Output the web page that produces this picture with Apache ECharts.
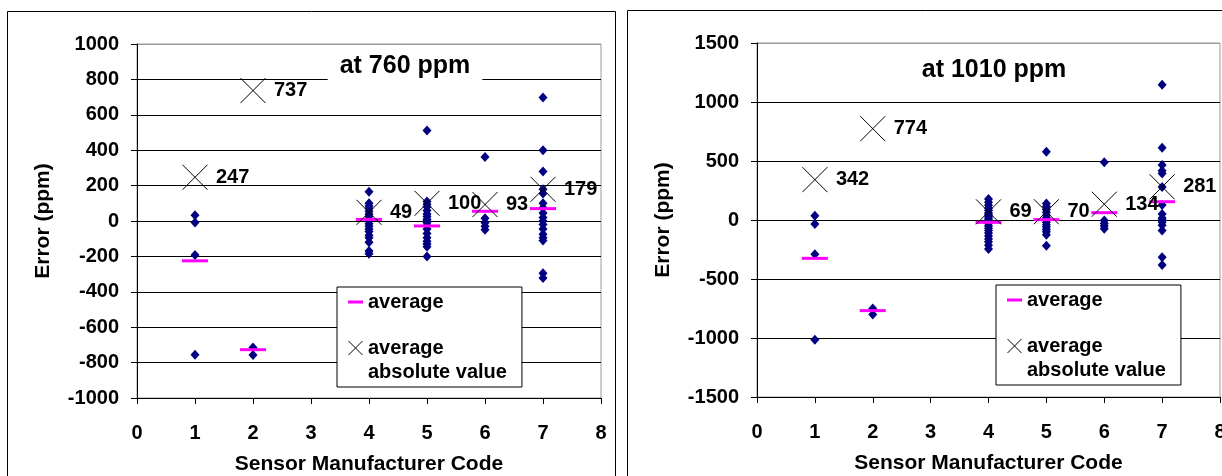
<!DOCTYPE html>
<html>
<head>
<meta charset="utf-8">
<script src="https://cdn.jsdelivr.net/npm/echarts@6/dist/echarts.min.js"></script>
<style>
html,body{margin:0;padding:0;background:#fff;}
#chart{width:1222px;height:476px;}
</style>
</head>
<body>
<div id="chart"></div>
<script>
// ---- data ----
const sensorCodes = [1, 2, 4, 5, 6, 7];

// individual sensor errors (ppm) at 760 ppm, per manufacturer code
const errors760 = [
  [33, -8, -192, -755],
  [-715, -757],
  [165, 100, 85, 70, 55, 40, 25, 10, 0, -15, -30, -45, -60, -80, -95, -120, -170, -185],
  [512, 110, 95, 80, 60, 40, 25, 10, 0, -10, -25, -45, -70, -95, -115, -130, -145, -200],
  [362, 15, -10, -30, -50],
  [698, 400, 280, 180, 155, 100, 75, 45, 20, 0, -20, -45, -75, -95, -110, -295, -322]
];
const average760 = [-225, -727, 9, -28, 55, 70];
const absAverage760 = [247, 737, 49, 100, 93, 179];

// individual sensor errors (ppm) at 1010 ppm
const errors1010 = [
  [37, -34, -290, -1014],
  [-749, -800],
  [178, 150, 125, 100, 80, 60, 45, 30, 15, 0, -15, -30, -50, -70, -90, -110, -135, -160, -185, -215, -245],
  [579, 140, 115, 90, 65, 40, 20, 0, -20, -40, -60, -80, -100, -125, -218],
  [489, -5, -30, -50, -75],
  [1147, 613, 466, 418, 395, 280, 127, 50, 17, 0, -20, -45, -90, -316, -381]
];
const average1010 = [-325, -768, -20, 3, 62, 155];
const absAverage1010 = [342, 774, 69, 70, 134, 281];

const titles = ['at 760 ppm', 'at 1010 ppm'];
const xAxisName = 'Sensor Manufacturer Code';
const yAxisName = 'Error (ppm)';
const legendNames = ['average', 'average absolute value'];

// ---- build ----
const FONT = '"Liberation Sans", Arial, sans-serif';
const xPath = 'path://M0,0L10,10M10,0L0,10';
const boldText = {fontSize: 20, fontWeight: 'bold', color: '#000', fontFamily: FONT};

function pts(errs) {
  const out = [];
  errs.forEach((arr, i) => arr.forEach(v => out.push([sensorCodes[i], v])));
  return out;
}
function pairs(vals) { return vals.map((v, i) => [sensorCodes[i], v]); }

const grids = [
  {left: 137, top: 44, width: 464, height: 354},
  {left: 757, top: 43, width: 463, height: 354}
];
const yRanges = [{min: -1000, max: 1000, interval: 200}, {min: -1500, max: 1500, interval: 500}];
const sets = [
  {errs: errors760, avg: average760, abs: absAverage760},
  {errs: errors1010, avg: average1010, abs: absAverage1010}
];

const option = {
  animation: false,
  textStyle: {fontFamily: FONT},
  graphic: [
    {type: 'rect', shape: {x: 7.5, y: 11.5, width: 608, height: 480}, style: {fill: 'none', stroke: '#000', lineWidth: 1}, z: -10},
    {type: 'rect', shape: {x: 627.5, y: 10.5, width: 700, height: 500}, style: {fill: 'none', stroke: '#000', lineWidth: 1}, z: -10}
  ],
  title: [
    {text: titles[0], left: 393, top: 48, textAlign: 'center', backgroundColor: '#fff', padding: [4, 12],
     textStyle: {fontSize: 25, fontWeight: 'bold', color: '#000', fontFamily: FONT, lineHeight: 29}},
    {text: titles[1], left: 982, top: 52, textAlign: 'center', padding: [4, 12],
     textStyle: {fontSize: 25, fontWeight: 'bold', color: '#000', fontFamily: FONT, lineHeight: 29}}
  ],
  legend: [0, 1].map(k => ({
    left: k === 0 ? 337 : 996,
    top: k === 0 ? 287 : 285,
    orient: 'vertical',
    selectedMode: false,
    backgroundColor: '#fff',
    borderColor: '#000',
    borderWidth: 1,
    borderRadius: 0,
    padding: [3, 15, 3, 9],
    itemWidth: 15,
    itemHeight: 14,
    itemGap: -2,
    symbolKeepAspect: true,
    textStyle: Object.assign({lineHeight: 24}, boldText, {
      rich: {
        e: Object.assign({lineHeight: 24}, boldText),
        a: Object.assign({lineHeight: 24}, boldText)
      }
    }),
    formatter: n => n === legendNames[1] ? '{e| }\n{a|average}\n{a|absolute value}' : n,
    data: [
      {name: legendNames[0], icon: 'path://M0,0H15V3H0Z', itemStyle: {color: '#FF00FF', borderWidth: 0, opacity: 1}},
      {name: legendNames[1], icon: xPath, itemStyle: {color: 'none', borderColor: '#000', borderWidth: 1, opacity: 1}}
    ]
  })),
  grid: grids.map(g => Object.assign({show: true, borderColor: '#999', borderWidth: 1, backgroundColor: 'transparent', containLabel: false, outerBoundsMode: 'none'}, g)),
  xAxis: [0, 1].map(k => ({
    type: 'value', gridIndex: k, min: 0, max: 8, interval: 1,
    name: xAxisName, nameLocation: 'middle', nameGap: 56,
    nameTextStyle: {fontSize: 21, fontWeight: 'bold', color: '#000', fontFamily: FONT},
    axisLine: {show: true, onZero: false, lineStyle: {color: '#000', width: 1}},
    axisTick: {show: true, inside: false, length: 6, lineStyle: {color: '#000'}},
    axisLabel: Object.assign({margin: 25, showMinLabel: true, showMaxLabel: true}, boldText),
    splitLine: {show: false}
  })),
  yAxis: [0, 1].map(k => {
    const r = yRanges[k];
    const n = Math.round((r.max - r.min) / r.interval) + 1;
    const cols = [];
    for (let i = 0; i < n; i++) cols.push(i === n - 1 ? '#999' : '#000');
    return {
      type: 'value', gridIndex: k, min: r.min, max: r.max, interval: r.interval,
      name: yAxisName, nameLocation: 'middle', nameGap: 83, nameRotate: 90,
      nameTextStyle: {fontSize: 21, fontWeight: 'bold', color: '#000', fontFamily: FONT},
      axisLine: {show: true, lineStyle: {color: '#000', width: 1}},
      axisTick: {show: true, inside: false, length: 6, lineStyle: {color: '#000'}},
      axisLabel: Object.assign({margin: 18, formatter: v => String(v)}, boldText),
      splitLine: {show: true, lineStyle: {color: cols, width: 1}}
    };
  }),
  series: []
};

[0, 1].forEach(k => {
  const s = sets[k];
  option.series.push({
    name: 'sensor error', type: 'scatter', xAxisIndex: k, yAxisIndex: k,
    symbol: 'diamond', symbolSize: [9, 10],
    itemStyle: {color: '#000080', opacity: 1},
    emphasis: {disabled: true}, z: 3,
    data: pts(s.errs)
  });
  option.series.push({
    name: legendNames[0], type: 'scatter', xAxisIndex: k, yAxisIndex: k,
    symbol: 'rect', symbolSize: [26, 3],
    itemStyle: {color: '#FF00FF', opacity: 1},
    emphasis: {disabled: true}, z: 4,
    data: pairs(s.avg)
  });
  option.series.push({
    name: legendNames[1], type: 'scatter', xAxisIndex: k, yAxisIndex: k,
    symbol: xPath, symbolSize: 25,
    itemStyle: {color: 'none', borderColor: '#000', borderWidth: 1, opacity: 1},
    emphasis: {disabled: true}, z: 5,
    label: {show: true, position: 'right', distance: 6,
            formatter: p => '{v|' + p.value[1] + '}',
            rich: {v: Object.assign({}, boldText)},
            color: '#000', fontWeight: 'bold', fontSize: 20, textBorderWidth: 0},
    data: pairs(s.abs)
  });
});

const chart = echarts.init(document.getElementById('chart'), null, {renderer: 'canvas'});
chart.setOption(option);
</script>
</body>
</html>
